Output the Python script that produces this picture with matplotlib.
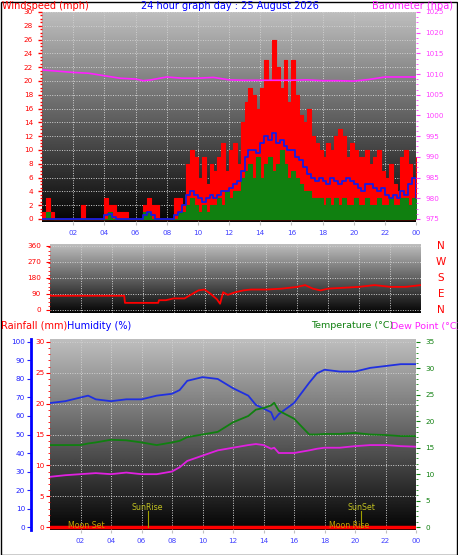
import matplotlib
matplotlib.use("Agg")
import matplotlib.pyplot as plt
import numpy as np
from matplotlib.patches import Rectangle

W, H = 458, 555

# ---- wind, 15 minute steps from 00:00 to 24:00 ----
gust = [1, 3, 1, 0,  0, 0, 0, 0,  0, 0, 2, 0,  0, 0, 0, 0,
        3, 2, 2, 1,  1, 1, 0, 0,  0, 0, 2, 3,  2, 2, 0, 0,
        0, 0, 3, 3,  2, 8, 10, 9,  6, 9, 5, 8,  7, 9, 11, 7,
        10, 11, 8, 14,  17, 19, 18, 16,  19, 23, 20, 26,  22, 19, 23, 17,
        23, 18, 15, 14,  16, 12, 11, 10,  9, 11, 10, 12,  13, 12, 9, 11,
        10, 9, 9, 10,  8, 9, 10, 7,  6, 8, 5, 4,  9, 10, 8, 6,  9]
lull = [0, 1, 0, 0,  0, 0, 0, 0,  0, 0, 0, 0,  0, 0, 0, 0,
        0, 1, 0, 0,  0, 0, 0, 0,  0, 0, 1, 1,  0, 0, 0, 0,
        0, 0, 0, 1,  1, 2, 3, 2,  1, 2, 1, 2,  2, 3, 2, 4,
        3, 4, 4, 6,  7, 8, 6, 9,  6, 8, 9, 7,  8, 10, 8, 6,
        7, 6, 5, 4,  4, 3, 3, 3,  2, 3, 2, 3,  2, 3, 2, 2,
        3, 2, 2, 3,  2, 2, 3, 2,  2, 3, 2, 2,  3, 3, 2, 3,  1]
avg_wind = [0, 0, 0, 0,  0, 0, 0, 0,  0, 0, 0, 0,  0, 0, 0, 0,
            0.5, 0.7, 0.3, 0,  0, 0, 0, 0,  0, 0, 0.5, 1,  0.5, 0, 0, 0,
            0, 0, 0.5, 1,  2, 3.5, 4, 3.5,  3, 2.5, 3, 3.5,  3, 3.5, 4, 4,
            4.5, 5, 5.5, 7,  9, 10, 10, 9.5,  11, 12, 11.5, 12.5,  11, 11.5, 10.5, 10,
            10, 9, 8.5, 7.5,  6.5, 6, 5.5, 6,  5.5, 5, 6, 5.5,  5, 5.5, 6, 5.5,
            5, 4.5, 4, 5,  5, 4.5, 4, 4.5,  3.5, 3, 3.5, 3,  4, 3.5, 5, 6,  3]

baro_hours = [0, 1, 2, 3, 4, 5, 6, 6.5, 7, 8, 9, 10, 11, 12, 13, 14, 16, 17, 18, 19, 20, 21, 22, 23, 24]
baro = [1011, 1010.7, 1010.4, 1010.2, 1009.6, 1009, 1008.8, 1008.4, 1008.6, 1009.3, 1009, 1009, 1009.2,
        1008.6, 1008.5, 1008.5, 1008.5, 1008.6, 1008.4, 1008.4, 1008.3, 1008.7, 1009.3, 1009.3, 1009.3]

# ---- wind direction ----
dir_hours = [0, 2, 4, 4.8, 4.85, 6, 7, 7.05, 7.5, 8, 8.7, 9, 9.3, 9.6, 10, 10.4, 10.8, 11, 11.2, 11.5,
             12, 12.5, 13, 14, 15, 16, 16.5, 17, 17.5, 18, 19, 20, 20.5, 21, 22, 23, 24]
wind_dir = [80, 80, 80, 80, 40, 40, 40, 55, 55, 65, 65, 80, 95, 110, 115, 90, 60, 35, 100, 85,
            100, 110, 115, 115, 120, 130, 140, 120, 110, 120, 125, 130, 135, 140, 130, 130, 140]

# ---- temperature / humidity ----
th_hours = [0, 1, 2, 2.5, 3, 4, 5, 6, 7, 8, 8.5, 9, 10, 11, 12, 13, 13.5, 14, 14.5, 14.7, 15, 16, 17,
            17.5, 18, 19, 20, 21, 22, 23, 24]
humidity = [67, 68, 70, 71, 69, 68, 69, 69, 71, 72, 74, 79, 81, 80, 75, 71, 66, 64, 62, 58, 61, 67, 78,
            83, 85, 84, 84, 86, 87, 88, 88]
temperature = [15.5, 15.5, 15.5, 15.8, 16, 16.5, 16.4, 16, 15.5, 16, 16.3, 17, 17.5, 18, 19.8, 21, 22.2,
               22.5, 23, 23.5, 22, 20.5, 17.5, 17.5, 17.6, 17.6, 17.8, 17.5, 17.4, 17.2, 17.2]
dew_point = [9.5, 9.8, 10, 10.1, 10.2, 10, 10.3, 10, 10, 10.5, 11.3, 12.5, 13.5, 14.5, 15, 15.5, 15.7,
             15.5, 14.8, 15, 14, 14, 14.5, 14.8, 15, 15, 15.3, 15.5, 15.5, 15.3, 15.2]
rain_hours = [0, 24]
rainfall = [0, 0]

hour_ticks = list(range(2, 25, 2))
hour_labels = [f"{h % 24:02d}" for h in hour_ticks]

fig = plt.figure(figsize=(W / 100, H / 100), dpi=100)
fig.patch.set_facecolor("white")
plt.rcParams["font.family"] = "DejaVu Sans"
FS = 5.2


def px_axes(x0, y0, x1, y1):
    return fig.add_axes([x0 / W, 1 - y1 / H, (x1 - x0) / W, (y1 - y0) / H])


def gradient(ax):
    grad = np.linspace(0, 1, 256).reshape(-1, 1)
    ax.imshow(grad, aspect="auto", cmap="gray", vmin=-0.02, vmax=1.35,
              extent=[0, 1, 0, 1], transform=ax.transAxes, origin="lower", zorder=0)


def style_hours(ax, labels=True):
    ax.set_xlim(0, 24)
    ax.set_xticks(hour_ticks)
    ax.set_xticklabels(hour_labels if labels else [], color="#4040ff", fontsize=FS)
    ax.tick_params(axis="x", length=2, color="#c0c0c0")
    ax.grid(True, color="#d0d0d0", linestyle=(0, (1, 1.5)), linewidth=0.7)
    for s in ax.spines.values():
        s.set_visible(False)


def series_hours(values):
    return np.linspace(0, 24, len(values))


# ---- top panel ----
ax1 = px_axes(42, 12, 416, 222)
gradient(ax1)
ax1.fill_between(series_hours(gust), gust, step="post", color="red", linewidth=0.8, edgecolor="red", zorder=2)
ax1.fill_between(series_hours(lull), lull, step="post", color="#108010", linewidth=0.8, edgecolor="#108010", zorder=3)
ax1.plot(series_hours(avg_wind), avg_wind, color="#1a1ae0", linewidth=1.3, zorder=4, drawstyle="steps-post")
ax1.plot([0, 24], [0, 0], color="red", linewidth=1.0, zorder=2)
ax1.set_ylim(-0.45, 30)
ax1.set_yticks(range(0, 31, 2))
ax1.set_yticks(np.arange(0, 30.1, 0.5), minor=True)
ax1.tick_params(axis="y", which="both", colors="red", labelsize=FS, length=3, width=1)
ax1.tick_params(axis="y", which="minor", length=1.5)
style_hours(ax1)
ax1.grid(True, axis="y", color="#d0d0d0", linestyle=(0, (1, 1.5)), linewidth=0.7)
ax1b = ax1.twinx()
ax1b.plot(baro_hours, baro, color="#ff20ff", linewidth=1.2)
ax1b.set_ylim(975 - 0.45 * 50 / 30, 1025)
ax1b.set_yticks(range(975, 1026, 5))
ax1b.set_yticks(np.arange(975, 1025.1, 1.25), minor=True)
ax1b.tick_params(axis="y", which="both", colors="#ff40ff", labelsize=FS, length=3)
ax1b.tick_params(axis="y", which="minor", length=1.5)
for s in ax1b.spines.values():
    s.set_visible(False)
fig.text(2 / W, 1 - 1 / H, "Windspeed (mph)", color="red", fontsize=7, va="top")
fig.text(230 / W, 1 - 1 / H, "24 hour graph day : 25 August 2026", color="blue", fontsize=7, va="top", ha="center")
fig.text(372 / W, 1 - 1 / H, "Barometer (hpa)", color="#ff20ff", fontsize=7, va="top")

# ---- middle panel ----
ax2 = px_axes(50, 244, 421, 313)
gradient(ax2)
ax2.plot(dir_hours, wind_dir, color="red", linewidth=1.3, zorder=3)
ax2.set_ylim(-17, 371)
ax2.set_yticks([0, 90, 180, 270, 360])
ax2.set_yticks(range(0, 361, 22), minor=True)
ax2.tick_params(axis="y", which="both", colors="red", labelsize=FS, length=3)
ax2.tick_params(axis="y", which="minor", length=1.5)
style_hours(ax2, labels=False)
ax2.tick_params(axis="x", length=0)
ax2.grid(True, axis="y", color="#d0d0d0", linestyle=(0, (1, 1.5)), linewidth=0.7)
for lbl, y in zip("NWSEN", [246, 262, 278, 294, 310]):
    fig.text(441 / W, 1 - y / H, lbl, color="red", fontsize=7.5, va="center", ha="center")

# ---- bottom panel ----
ax3 = px_axes(50, 339, 416, 530)
gradient(ax3)
ax3.plot(rain_hours, rainfall, color="red", linewidth=2.5, zorder=3)
ax3.set_ylim(-0.48, 30.48)
style_hours(ax3)
ax3.set_yticks(range(0, 31, 5))
ax3.set_yticks(range(0, 31, 1), minor=True)
ax3.tick_params(axis="y", which="both", colors="red", labelsize=FS, length=3, pad=1)
ax3.tick_params(axis="y", which="minor", length=1.5)
ax3.grid(True, axis="y", color="#d0d0d0", linestyle=(0, (1, 1.5)), linewidth=0.7)

ax3h = ax3.twinx()
ax3h.plot(th_hours, humidity, color="#2030e0", linewidth=1.3, zorder=4)
ax3h.set_ylim(-1.6, 101.6)
ax3h.yaxis.set_ticks_position("left")
ax3h.yaxis.set_label_position("left")
ax3h.spines["left"].set_position(("outward", 14))
ax3h.spines["left"].set_color("blue")
ax3h.spines["left"].set_linewidth(2)
for k in ("right", "top", "bottom"):
    ax3h.spines[k].set_visible(False)
ax3h.set_yticks(range(0, 101, 10))
ax3h.tick_params(axis="y", colors="#2020ff", labelsize=FS, length=3, pad=1)

ax3t = ax3.twinx()
ax3t.plot(th_hours, temperature, color="#108010", linewidth=1.3, zorder=4)
ax3t.plot(th_hours, dew_point, color="#e020e0", linewidth=1.3, zorder=4)
ax3t.set_ylim(-0.56, 35.56)
ax3t.set_yticks(range(0, 36, 5))
ax3t.set_yticks(range(0, 36, 1), minor=True)
ax3t.tick_params(axis="y", which="both", colors="#108010", labelsize=FS, length=3)
ax3t.tick_params(axis="y", which="minor", length=1.5)
for s in ax3t.spines.values():
    s.set_visible(False)

for h, lab in [(6.4, "SunRise"), (20.4, "SunSet")]:
    ax3.plot([h, h], [0, 2.6], color="#a0a000", linewidth=0.8, zorder=5)
    ax3.text(h, 3.2, lab, color="#c0c020", fontsize=FS + 0.5, ha="center", va="center", zorder=5)
ax3.text(2.4, 0.3, "Moon Set", color="#c0a000", fontsize=FS + 0.5, ha="center", va="center", zorder=5)
ax3.text(19.6, 0.3, "Moon Rise", color="#c0a000", fontsize=FS + 0.5, ha="center", va="center", zorder=5)

fig.text(1 / W, 1 - 326 / H, "Rainfall (mm)", color="red", fontsize=7, va="center")
fig.text(67 / W, 1 - 326 / H, "Humidity (%)", color="blue", fontsize=7, va="center")
fig.text(311 / W, 1 - 326 / H, "Temperature (°C)", color="#108010", fontsize=6.8, va="center")
fig.text(391 / W, 1 - 326 / H, "Dew Point (°C)", color="#ff20ff", fontsize=6.8, va="center")

fig.add_artist(Rectangle((0.5 / W, 0.5 / H), 1 - 2 / W, 1 - 2 / H, transform=fig.transFigure,
                         fill=False, edgecolor="black", linewidth=1))

fig.savefig("out.png", dpi=100)
